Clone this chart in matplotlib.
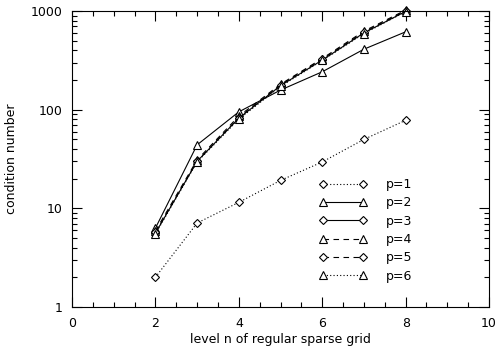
import numpy as np
import matplotlib.pyplot as plt
from matplotlib.ticker import MultipleLocator, LogLocator, NullFormatter, FixedLocator

levels = [2, 3, 4, 5, 6, 7, 8]
p1 = [2.0, 7.1, 11.5, 19.2, 29.5, 50, 78]
p2 = [6.3, 44, 95, 158, 242, 410, 615]
p3 = [5.6, 30, 82, 175, 318, 600, 990]
p4 = [5.9, 31, 86, 181, 330, 625, 1020]
p5 = [5.7, 30, 83, 178, 325, 610, 1005]
p6 = [5.5, 29.5, 80, 172, 315, 590, 985]
labels = ["p=1", "p=2", "p=3", "p=4", "p=5", "p=6"]

plt.rcParams['font.family'] = ['DejaVu Sans']
fig = plt.figure(figsize=(4.98, 3.48), dpi=100)
ax = fig.add_axes([0.1446, 0.1178, 0.8374, 0.8506])

styles = [
    (p1, (0, (1, 2)), "D"),
    (p2, "-", "^"),
    (p3, "-", "D"),
    (p4, (0, (5, 4)), "^"),
    (p5, (0, (5, 4)), "D"),
    (p6, (0, (1, 2)), "^"),
]
for (vals, ls, mk), lab in zip(styles, labels):
    ms = 3.6 if mk == "D" else 5.2
    ax.plot(levels, vals, linestyle=ls, marker=mk, color="black", lw=0.8,
            markersize=ms, markerfacecolor="white", markeredgewidth=0.8,
            label=lab, clip_on=False)

ax.set_yscale("log")
ax.set_xlim(0, 10)
ax.set_ylim(1, 1000)
ax.xaxis.set_major_locator(MultipleLocator(2))
ax.xaxis.set_minor_locator(MultipleLocator(0.5))
ax.yaxis.set_major_locator(FixedLocator([1, 10, 100, 1000]))
ax.yaxis.set_minor_locator(LogLocator(base=10, subs=np.arange(2, 10)))
ax.yaxis.set_minor_formatter(NullFormatter())
ax.set_yticklabels(["1", "10", "100", "1000"])
ax.tick_params(which="both", direction="in", top=True, right=True,
               labelsize=9, width=0.8, pad=7)
ax.tick_params(which="major", length=7)
ax.tick_params(which="minor", length=3.5)
for s in ax.spines.values():
    s.set_linewidth(0.8)

ax.set_xlabel("level n of regular sparse grid", fontsize=9, labelpad=2)
ax.set_ylabel("condition number", fontsize=9, labelpad=9)

ax.legend(loc="upper left", bbox_to_anchor=(0.578, 0.457), frameon=False,
          numpoints=2, handlelength=3.8, fontsize=9, labelspacing=0.43,
          borderpad=0, handletextpad=1.5)

fig.savefig("out.png", dpi=100)
